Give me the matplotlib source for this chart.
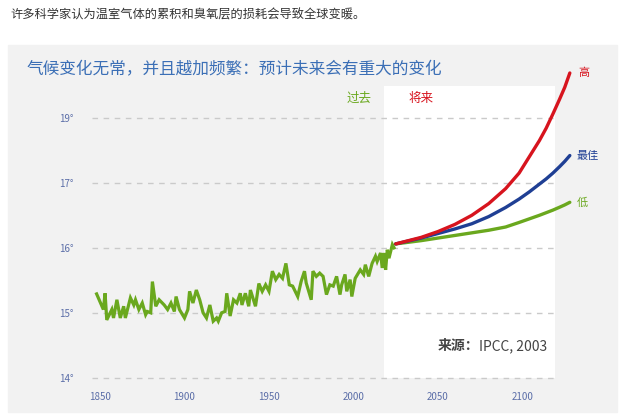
import numpy as np
import matplotlib
matplotlib.use('Agg')
import matplotlib.pyplot as plt
from matplotlib.patches import Rectangle

plt.rcParams['font.family'] = ['Noto Sans CJK SC', 'DejaVu Sans']

hist_years = [1848, 1852, 1853, 1854, 1857, 1858, 1860, 1862, 1864, 1865,
              1868, 1870, 1871, 1873, 1875, 1877, 1878, 1880, 1881, 1883,
              1885, 1888, 1890, 1892, 1894, 1895, 1897, 1900, 1902, 1903,
              1905, 1907, 1909, 1911, 1913, 1915, 1917, 1919, 1920, 1922,
              1924, 1925, 1927, 1929, 1931, 1933, 1934, 1936, 1938, 1939,
              1942, 1944, 1946, 1948, 1950, 1952, 1954, 1956, 1958, 1960,
              1962, 1964, 1967, 1969, 1971, 1972, 1975, 1976, 1978, 1980,
              1982, 1984, 1986, 1988, 1990, 1992, 1993, 1995, 1996, 1998,
              1999, 2001, 2004, 2006, 2007, 2009, 2011, 2013, 2014, 2016,
              2017, 2018, 2019, 2020, 2021, 2023, 2024]
hist_temps = [15.29, 15.05, 15.30, 14.89, 15.05, 14.92, 15.20, 14.92, 15.10, 14.92,
              15.23, 15.12, 15.20, 15.05, 15.15, 14.97, 15.02, 15.00, 15.48, 15.10,
              15.20, 15.12, 15.05, 15.15, 15.02, 15.25, 15.05, 14.92, 15.05, 15.33,
              15.15, 15.35, 15.20, 15.00, 14.92, 15.12, 14.87, 14.92, 14.87, 15.00,
              15.02, 15.30, 14.95, 15.20, 15.15, 15.30, 15.12, 15.30, 15.10, 15.35,
              15.10, 15.45, 15.33, 15.43, 15.33, 15.64, 15.51, 15.59, 15.53, 15.76,
              15.43, 15.41, 15.25, 15.48, 15.64, 15.46, 15.20, 15.64, 15.56, 15.61,
              15.56, 15.28, 15.43, 15.41, 15.56, 15.28, 15.43, 15.59, 15.33, 15.51,
              15.25, 15.53, 15.66, 15.59, 15.74, 15.56, 15.76, 15.87, 15.79, 15.92,
              15.69, 15.92, 15.66, 15.97, 15.84, 16.05, 16.00]

# Projections (high / best / low scenario)
proj_years = [2025, 2040, 2050, 2060, 2070, 2080, 2090, 2098, 2104, 2110,
              2114, 2118, 2122, 2125, 2128]
proj_high = [16.06, 16.16, 16.25, 16.36, 16.50, 16.68, 16.91, 17.30, 17.80, 18.30,
             18.68, 19.12, 19.58, 19.94, 20.38]
proj_best = [16.06, 16.15, 16.22, 16.29, 16.37, 16.48, 16.62, 16.75, 16.86, 16.98,
             17.12, 17.30, 17.50, 17.66, 17.84]
proj_low = [16.06, 16.11, 16.15, 16.19, 16.23, 16.27, 16.32, 16.39, 16.445, 16.50,
            16.54, 16.58, 16.625, 16.66, 16.70]

y_ticks = [14, 15, 16, 17, 19]
x_ticks = [1850, 1900, 1950, 2000, 2050, 2100]

green = '#6aa81e'
red = '#d7141e'
blue = '#1f3f94'
tick_col = '#5b6ea8'


# the axis in the original is evenly spaced at 14,15,16,17,19
def fwd(t):
    t = np.asarray(t, dtype=float)
    return np.where(t <= 17, t - 14, 3 + (t - 17) / 2)


def inv(u):
    u = np.asarray(u, dtype=float)
    return np.where(u <= 3, u + 14, 17 + 2 * (u - 3))


fig = plt.figure(figsize=(6.25, 4.17), dpi=100)
fig.patches.append(Rectangle((8 / 625, 1 - 412 / 417), 609 / 625, 367 / 417,
                             transform=fig.transFigure, color='#f2f2f2', zorder=-5))

ax = fig.add_axes([90 / 625, 36 / 417, 500 / 625, 321 / 417])
ax.set_facecolor('none')
ax.set_yscale('function', functions=(fwd, inv))
ax.set_xlim(1850 - 10 / 1.69, 1850 + 500 / 1.69 - 10 / 1.69)
ax.set_ylim(inv(-0.05), inv(4.89))

# white "future" panel
ax.axvspan(2018, 2119, ymin=0.01, ymax=0.919, color='white', zorder=1, lw=0)

for t in y_ticks:
    ax.hlines(t, 1845, 2119, colors='#cacaca', linestyles=(0, (4, 4)), lw=1, zorder=2)

ax.plot(hist_years, hist_temps, color=green, lw=2.3, zorder=4, solid_joinstyle='miter')
ax.plot(proj_years, proj_low, color=green, lw=2.4, zorder=5, solid_capstyle='round')
ax.plot(proj_years, proj_best, color=blue, lw=2.4, zorder=6, solid_capstyle='round')
ax.plot(proj_years, proj_high, color=red, lw=2.4, zorder=7, solid_capstyle='round')

ax.set_yticks(y_ticks)
ax.set_yticklabels([f'{t}°' for t in y_ticks])
ax.set_xticks(x_ticks)
ax.set_xticklabels([str(x) for x in x_ticks])
ax.tick_params(length=0, colors=tick_col, labelsize=7)
ax.tick_params(axis='y', pad=12)
ax.tick_params(axis='x', pad=8)
ax.minorticks_off()
for s in ax.spines.values():
    s.set_visible(False)

ax.text(2003, inv(4.3), '过去', color=green, fontsize=9, ha='center', va='center')
ax.text(2040, inv(4.3), '将来', color=red, fontsize=9, ha='center', va='center')
ax.text(2133, proj_high[-1], '高', color=red, fontsize=8, ha='left', va='center')
ax.text(2132, proj_best[-1], '最佳', color=blue, fontsize=8, ha='left', va='center')
ax.text(2132, proj_low[-1], '低', color=green, fontsize=8, ha='left', va='center')

src = fig.text(547 / 625, 1 - 346 / 417, 'IPCC, 2003', color='#444444', fontsize=10,
               ha='right', va='center')
fig.canvas.draw()
bb = src.get_window_extent()
fig.text(bb.x0 / 625, 1 - 346 / 417, '来源：', color='#444444', fontsize=10,
         fontweight='bold', ha='right', va='center')

fig.text(27 / 625, 1 - 70 / 417, '气候变化无常，并且越加频繁：预计未来会有重大的变化',
         color='#3b6fb6', fontsize=12, ha='left', va='center')
fig.text(10 / 625, 1 - 15 / 417, '许多科学家认为温室气体的累积和臭氧层的损耗会导致全球变暖。',
         color='#333333', fontsize=8.8, ha='left', va='center')

fig.savefig('out.png', dpi=100)
